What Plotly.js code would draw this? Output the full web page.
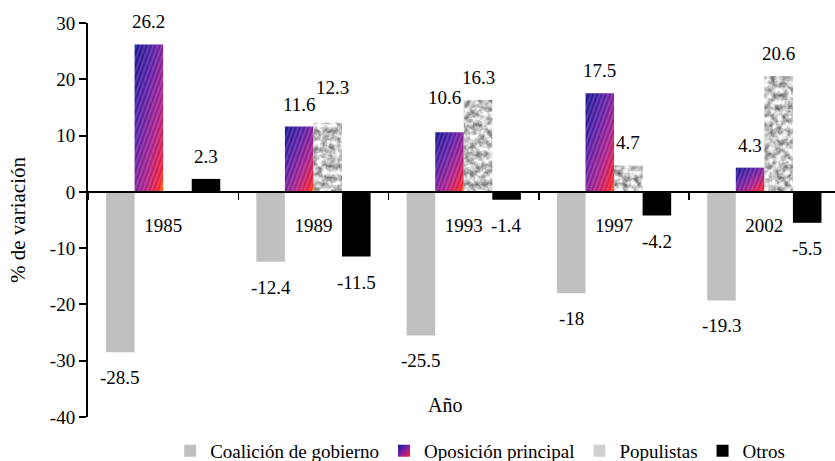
<!DOCTYPE html>
<html>
<head>
<meta charset="utf-8">
<script src="https://cdn.plot.ly/plotly-3.0.1.min.js"></script>
<style>html,body{margin:0;padding:0;background:#fff;}#chart{width:835px;height:461px;}</style>
</head>
<body>
<div id="chart"></div>
<script>
// ---- data ----
const categories = ['1985', '1989', '1993', '1997', '2002'];
const seriesNames = ['Coalición de gobierno', 'Oposición principal', 'Populistas', 'Otros'];
const coalicion = [-28.5, -12.4, -25.5, -18, -19.3];
const oposicion = [26.2, 11.6, 10.6, 17.5, 4.3];
const populistas = [null, 12.3, 16.3, 4.7, 20.6];
const otros = [2.3, -11.5, -1.4, -4.2, -5.5];
const yTickVals = [-40, -30, -20, -10, 0, 10, 20, 30];
const yTickText = ['-40', '-30', '-20', '-10', '0', '10', '20', '30'];

// ---- styling ----
const FONT = 'Liberation Serif';
const seriesValues = [coalicion, oposicion, populistas, otros];
const seriesColors = ['#c0c0c0', '#7a1f9a', '#c4c4c4', '#000000'];
const BARGAP = 0.24;
const barW = (1 - BARGAP) / seriesValues.length;
// manual pixel nudges for labels that were moved in the original
const labelNudge = { '2-1': [5, 13], '1-2': [-5, 12] };

const traces = seriesValues.map((vals, s) => ({
  type: 'bar',
  name: seriesNames[s],
  x: categories,
  y: vals,
  marker: { color: seriesColors[s], line: { width: 0 } },
  hoverinfo: 'skip'
}));

const annotations = [];
seriesValues.forEach((vals, s) => {
  vals.forEach((v, i) => {
    if (v === null) return;
    const nudge = labelNudge[s + '-' + i] || [0, 0];
    annotations.push({
      x: i + (s - (seriesValues.length - 1) / 2) * barW,
      y: v,
      xref: 'x', yref: 'y',
      text: String(v),
      showarrow: false,
      xanchor: 'center', yanchor: 'middle',
      xshift: nudge[0],
      yshift: (v >= 0 ? 22.5 : -25.5) + nudge[1],
      font: { family: FONT, size: 19, color: '#000' }
    });
  });
});
annotations.push({
  text: 'Año', xref: 'paper', yref: 'paper', x: 0.478, y: 0.03,
  xanchor: 'center', yanchor: 'middle', showarrow: false,
  font: { family: FONT, size: 20, color: '#000' }
});

const layout = {
  width: 835, height: 461,
  margin: { l: 88, r: 0, t: 23, b: 44, pad: 0 },
  paper_bgcolor: '#fff', plot_bgcolor: '#fff',
  font: { family: FONT, size: 19, color: '#000' },
  barmode: 'group', bargap: BARGAP, bargroupgap: 0,
  showlegend: true,
  legend: {
    orientation: 'h', x: 0.525, xanchor: 'center',
    yref: 'container', y: 0.022, yanchor: 'middle',
    font: { family: FONT, size: 19, color: '#000' }, traceorder: 'normal',
    itemwidth: 30, tracegroupgap: 0, bgcolor: 'rgba(0,0,0,0)'
  },
  xaxis: {
    type: 'category', range: [-0.5, 4.47], fixedrange: true,
    anchor: 'free', position: 40 / 70, automargin: false,
    showline: true, linecolor: '#000', linewidth: 2,
    ticks: 'outside', tickson: 'boundaries', ticklen: 7, tickwidth: 1.5, tickcolor: '#000',
    ticklabelstandoff: 16,
    showgrid: false, zeroline: false,
    tickfont: { family: FONT, size: 19, color: '#000' }
  },
  yaxis: {
    range: [-40, 30], fixedrange: true, automargin: false,
    tickvals: yTickVals, ticktext: yTickText,
    showline: true, linecolor: '#000', linewidth: 2,
    ticks: 'outside', ticklen: 7, tickwidth: 2, tickcolor: '#000',
    showgrid: false, zeroline: false,
    tickfont: { family: FONT, size: 19, color: '#000' },
    title: { text: '% de variación', font: { family: FONT, size: 21, color: '#000' }, standoff: 19 }
  },
  annotations: annotations
};

Plotly.newPlot('chart', traces, layout, { staticPlot: true, displayModeBar: false }).then(() => {
  const NS = 'http://www.w3.org/2000/svg';
  const svg = document.querySelector('#chart .main-svg');
  const defs = document.createElementNS(NS, 'defs');
  defs.innerHTML =
    '<linearGradient id="opoGrad" x1="0" y1="0" x2="1" y2="1">' +
      '<stop offset="0" stop-color="#14148f"/>' +
      '<stop offset="0.35" stop-color="#5a1ea6"/>' +
      '<stop offset="0.65" stop-color="#a8208c"/>' +
      '<stop offset="0.9" stop-color="#f01c34"/>' +
      '<stop offset="1" stop-color="#ff6a00"/>' +
    '</linearGradient>' +
    '<pattern id="opoHatch" patternUnits="userSpaceOnUse" width="4" height="4" patternTransform="rotate(20)">' +
      '<line x1="1" y1="0" x2="1" y2="4" stroke="#ffffff" stroke-opacity="0.3" stroke-width="1"/>' +
    '</pattern>' +
    '<filter id="popNoise" x="0" y="0" width="1" height="1" color-interpolation-filters="sRGB">' +
      '<feTurbulence type="fractalNoise" baseFrequency="0.17" numOctaves="3" seed="5" result="t"/>' +
      '<feColorMatrix in="t" type="matrix" values="1.05 0 0 0 0.24  1.05 0 0 0 0.24  1.05 0 0 0 0.24  0 0 0 0 1" result="g"/>' +
      '<feComposite in="g" in2="SourceGraphic" operator="in"/>' +
    '</filter>';
  svg.appendChild(defs);

  const barTraces = document.querySelectorAll('#chart .barlayer .trace.bars');
  if (barTraces[1]) {
    barTraces[1].querySelectorAll('path').forEach(p => {
      p.style.fill = 'url(#opoGrad)';
      const c = p.cloneNode(true);
      c.style.fill = 'url(#opoHatch)';
      p.parentNode.insertBefore(c, p.nextSibling);
    });
  }
  if (barTraces[2]) {
    barTraces[2].querySelectorAll('path').forEach(p => { p.style.filter = 'url(#popNoise)'; });
  }
  const legItems = document.querySelectorAll('#chart .legend .traces');
  if (legItems[1]) legItems[1].querySelectorAll('.legendpoints path').forEach(p => { p.style.fill = 'url(#opoGrad)'; });
  if (legItems[2]) legItems[2].querySelectorAll('.legendpoints path').forEach(p => { p.style.fill = '#d0d0d0'; });
});
</script>
</body>
</html>
